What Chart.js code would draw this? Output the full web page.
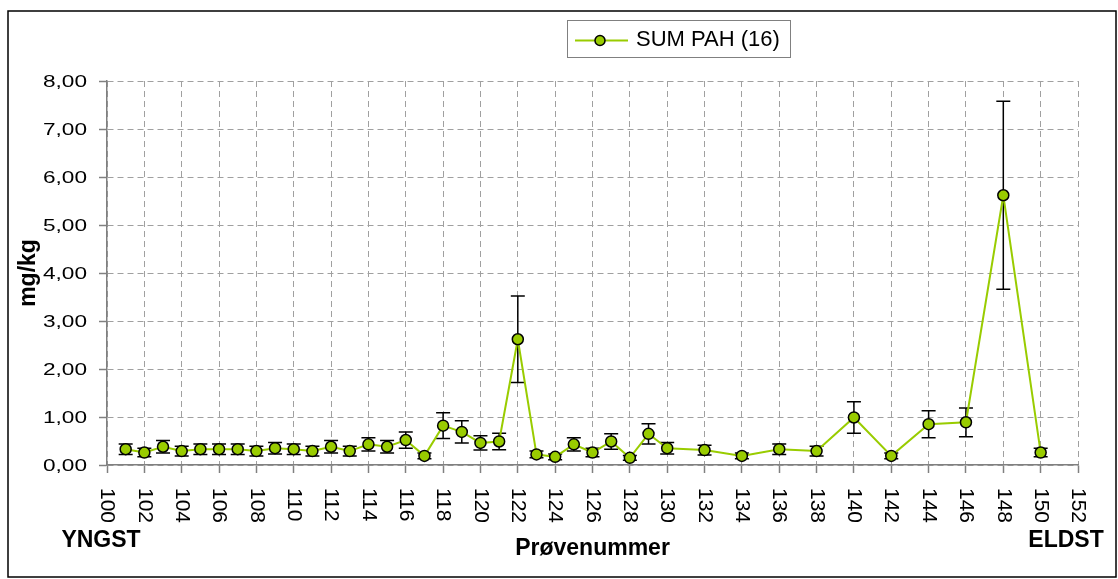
<!DOCTYPE html>
<html>
<head>
<meta charset="utf-8">
<script src="https://cdn.jsdelivr.net/npm/chart.js@4.4.1/dist/chart.umd.min.js"></script>
<style>
    body { margin: 0; background: #fff; }
</style>
</head>
<body>
<canvas id="pahChart" width="1118" height="579"></canvas>
<script>
// prøvenummer og SUM PAH (16), mg/kg, lest av figuren
const sampleNo = [101, 102, 103, 104, 105, 106, 107, 108, 109, 110,
    111, 112, 113, 114, 115, 116, 117, 118, 119, 120,
    121, 122, 123, 124, 125, 126, 127, 128, 129, 130,
    132, 134, 136, 138, 140, 142, 144, 146, 148, 150];
const sumPah = [0.33, 0.26, 0.38, 0.29, 0.33, 0.33, 0.33, 0.29, 0.35, 0.33,
    0.29, 0.38, 0.29, 0.43, 0.38, 0.52, 0.19, 0.82, 0.69, 0.46,
    0.49, 2.62, 0.22, 0.17, 0.43, 0.26, 0.49, 0.15, 0.65, 0.35,
    0.31, 0.19, 0.33, 0.29, 0.99, 0.19, 0.85, 0.89, 5.62, 0.26];
const sumPahErr = [0.11, 0.09, 0.13, 0.10, 0.11, 0.11, 0.11, 0.10, 0.12, 0.11,
    0.10, 0.13, 0.10, 0.14, 0.13, 0.17, 0.06, 0.27, 0.23, 0.15,
    0.17, 0.90, 0.07, 0.06, 0.14, 0.09, 0.16, 0.05, 0.21, 0.12,
    0.10, 0.06, 0.11, 0.10, 0.33, 0.06, 0.28, 0.30, 1.96, 0.09];

const seriesName = 'SUM PAH (16)';
const xTitle = 'Prøvenummer';
const yTitle = 'mg/kg';
const leftNote = 'YNGST';
const rightNote = 'ELDST';

const green = '#99CC00';
const fontName = '"Liberation Sans", Arial, sans-serif';

function fmt(v) {
    return v.toFixed(2).replace('.', ',');
}

// feilstolper under punktene
const errorBars = {
    id: 'errorBars',
    beforeDatasetsDraw(chart) {
        const {ctx, scales: {x, y}} = chart;
        ctx.save();
        ctx.strokeStyle = '#000';
        ctx.lineWidth = 1.5;
        sampleNo.forEach((n, i) => {
            const px = x.getPixelForValue(n);
            const top = y.getPixelForValue(sumPah[i] + sumPahErr[i]);
            const bot = y.getPixelForValue(sumPah[i] - sumPahErr[i]);
            ctx.beginPath();
            ctx.moveTo(px, top);
            ctx.lineTo(px, bot);
            ctx.moveTo(px - 7, top);
            ctx.lineTo(px + 7, top);
            ctx.moveTo(px - 7, bot);
            ctx.lineTo(px + 7, bot);
            ctx.stroke();
        });
        ctx.restore();
    }
};

// aksetekster, legend og ramme
const chartText = {
    id: 'chartText',
    afterDraw(chart) {
        const {ctx, chartArea, scales: {x, y}} = chart;
        ctx.save();
        ctx.fillStyle = '#000';

        ctx.strokeStyle = '#000';
        ctx.lineWidth = 1.5;
        ctx.strokeRect(8, 11, 1108, 566);

        ctx.font = '17px ' + fontName;
        ctx.textAlign = 'right';
        ctx.textBaseline = 'middle';
        y.ticks.forEach(t => {
            ctx.save();
            ctx.translate(chartArea.left - 20, y.getPixelForValue(t.value) + 1);
            ctx.scale(1.33, 1);
            ctx.fillText(fmt(t.value), 0, 0);
            ctx.restore();
        });

        ctx.font = '21px ' + fontName;
        ctx.textAlign = 'left';
        ctx.textBaseline = 'middle';
        x.ticks.forEach(t => {
            ctx.save();
            ctx.translate(x.getPixelForValue(t.value), chartArea.bottom + 23);
            ctx.rotate(Math.PI / 2);
            ctx.fillText(String(t.value), 0, 0);
            ctx.restore();
        });

        ctx.font = 'bold 23px ' + fontName;
        ctx.textAlign = 'center';
        ctx.textBaseline = 'alphabetic';
        ctx.fillText(leftNote, 101, 547);
        ctx.fillText(rightNote, 1066, 547);
        ctx.fillText(xTitle, (chartArea.left + chartArea.right) / 2, 555);

        ctx.save();
        ctx.translate(35, (chartArea.top + chartArea.bottom) / 2);
        ctx.rotate(-Math.PI / 2);
        ctx.fillText(yTitle, 0, 0);
        ctx.restore();

        // legend
        ctx.fillStyle = '#fff';
        ctx.fillRect(567, 20, 223, 37);
        ctx.strokeStyle = '#808080';
        ctx.lineWidth = 1;
        ctx.strokeRect(567.5, 20.5, 223, 37);
        ctx.strokeStyle = green;
        ctx.lineWidth = 2;
        ctx.beginPath();
        ctx.moveTo(575, 40.5);
        ctx.lineTo(628, 40.5);
        ctx.stroke();
        ctx.beginPath();
        ctx.arc(600, 40.5, 5, 0, Math.PI * 2);
        ctx.fillStyle = green;
        ctx.fill();
        ctx.strokeStyle = '#000';
        ctx.lineWidth = 1.5;
        ctx.stroke();
        ctx.fillStyle = '#000';
        ctx.font = '22px ' + fontName;
        ctx.textAlign = 'left';
        ctx.textBaseline = 'middle';
        ctx.fillText(seriesName, 636, 40);

        ctx.restore();
    }
};

const axisGrid = {
    color: '#a0a0a0',
    lineWidth: 1,
    tickColor: '#808080',
    tickWidth: 1.5,
    tickLength: 8,
    tickBorderDash: []
};
const axisBorder = {
    color: '#808080',
    width: 1.5,
    dash: [6, 4]
};

new Chart(document.getElementById('pahChart'), {
    type: 'line',
    data: {
        datasets: [{
            label: seriesName,
            data: sampleNo.map((n, i) => ({x: n, y: sumPah[i]})),
            borderColor: green,
            borderWidth: 2,
            pointRadius: 5.5,
            pointBackgroundColor: green,
            pointBorderColor: '#000',
            pointBorderWidth: 1.5,
            tension: 0
        }]
    },
    options: {
        responsive: false,
        animation: false,
        events: [],
        layout: {
            padding: {left: 99, right: 40, top: 81, bottom: 106}
        },
        plugins: {
            legend: {display: false},
            tooltip: {enabled: false}
        },
        scales: {
            x: {
                type: 'linear',
                min: 100,
                max: 152,
                ticks: {display: false, stepSize: 2},
                grid: axisGrid,
                border: axisBorder
            },
            y: {
                min: 0,
                max: 8,
                ticks: {display: false, stepSize: 1},
                grid: axisGrid,
                border: axisBorder
            }
        }
    },
    plugins: [errorBars, chartText]
});
</script>
</body>
</html>
